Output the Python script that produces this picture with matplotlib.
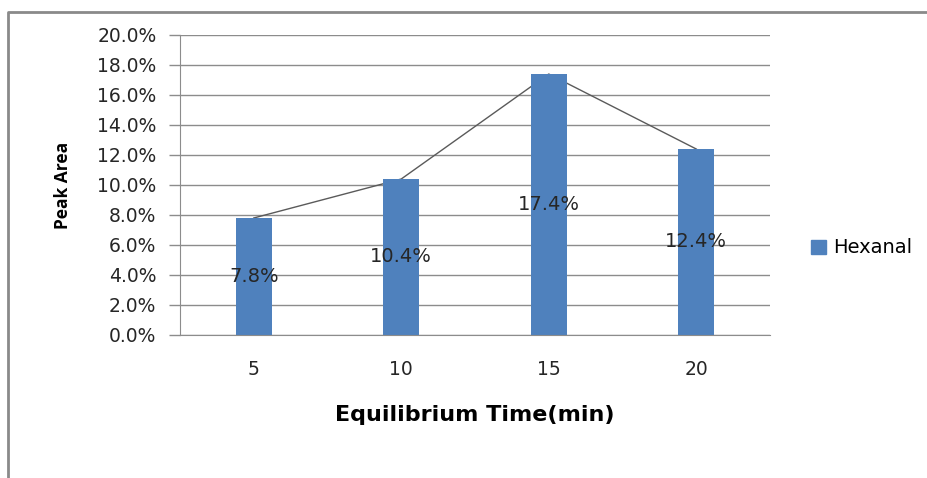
import matplotlib
matplotlib.use("Agg")
import matplotlib.pyplot as plt
from matplotlib.lines import Line2D
from matplotlib.patches import Patch

# ── data ─────────────────────────────────────────────
times = ["5", "10", "15", "20"]
hexanal = [7.8, 10.4, 17.4, 12.4]
yticks = [0, 2, 4, 6, 8, 10, 12, 14, 16, 18, 20]

plt.rcParams["font.family"] = ["DejaVu Sans"]

fig = plt.figure(figsize=(9.27, 4.78), dpi=100)
fig.patch.set_facecolor("white")
ax = fig.add_axes([180/927, 1-335/478, 590/927, 300/478])

x = range(len(times))
ax.plot(x, hexanal, color="#5a5a5a", lw=1.0, zorder=1)
ax.bar(x, hexanal, width=0.245, color="#4F81BD", zorder=2)

for xi, v in zip(x, hexanal):
    ax.text(xi, v/2, f"{v:.1f}%", ha="center", va="center",
            fontsize=14, color="#262626", zorder=3)

ax.set_xlim(-0.5, len(times)-0.5)
ax.set_ylim(0, 20)
ax.set_yticks(yticks)
ax.set_yticklabels([f"{t:.1f}%" for t in yticks], fontsize=13.5, color="#262626")
ax.set_xticks(list(x))
ax.set_xticklabels(times, fontsize=13.5, color="#262626")
ax.tick_params(axis="y", length=8, color="#8c8c8c", width=1, pad=9)
ax.tick_params(axis="x", length=0, pad=18)
ax.yaxis.grid(True, color="#8c8c8c", lw=1)
ax.set_axisbelow(True)
for s in ["top", "right"]:
    ax.spines[s].set_visible(False)
ax.spines["left"].set_color("#8c8c8c")
ax.spines["bottom"].set_color("#8c8c8c")

ax.set_xlabel("Equilibrium Time(min)", fontsize=16, fontweight="bold", labelpad=19)
ax.set_ylabel("Peak Area", fontsize=12.5, fontweight="bold", labelpad=18,
              family=["Open Sans", "DejaVu Sans"])

ax.legend(handles=[Patch(color="#4F81BD", label="Hexanal")], loc="center left",
          bbox_to_anchor=(1.04, 0.29), frameon=False, fontsize=14,
          handlelength=0.75, handleheight=0.75, handletextpad=0.4)

# outer chart frame
fig.add_artist(Line2D([8/927, 8/927, 1.0], [0, 1-12/478, 1-12/478],
                      transform=fig.transFigure, color="#8a8a8a", lw=2))

fig.savefig("out.png", dpi=100, facecolor="white")
